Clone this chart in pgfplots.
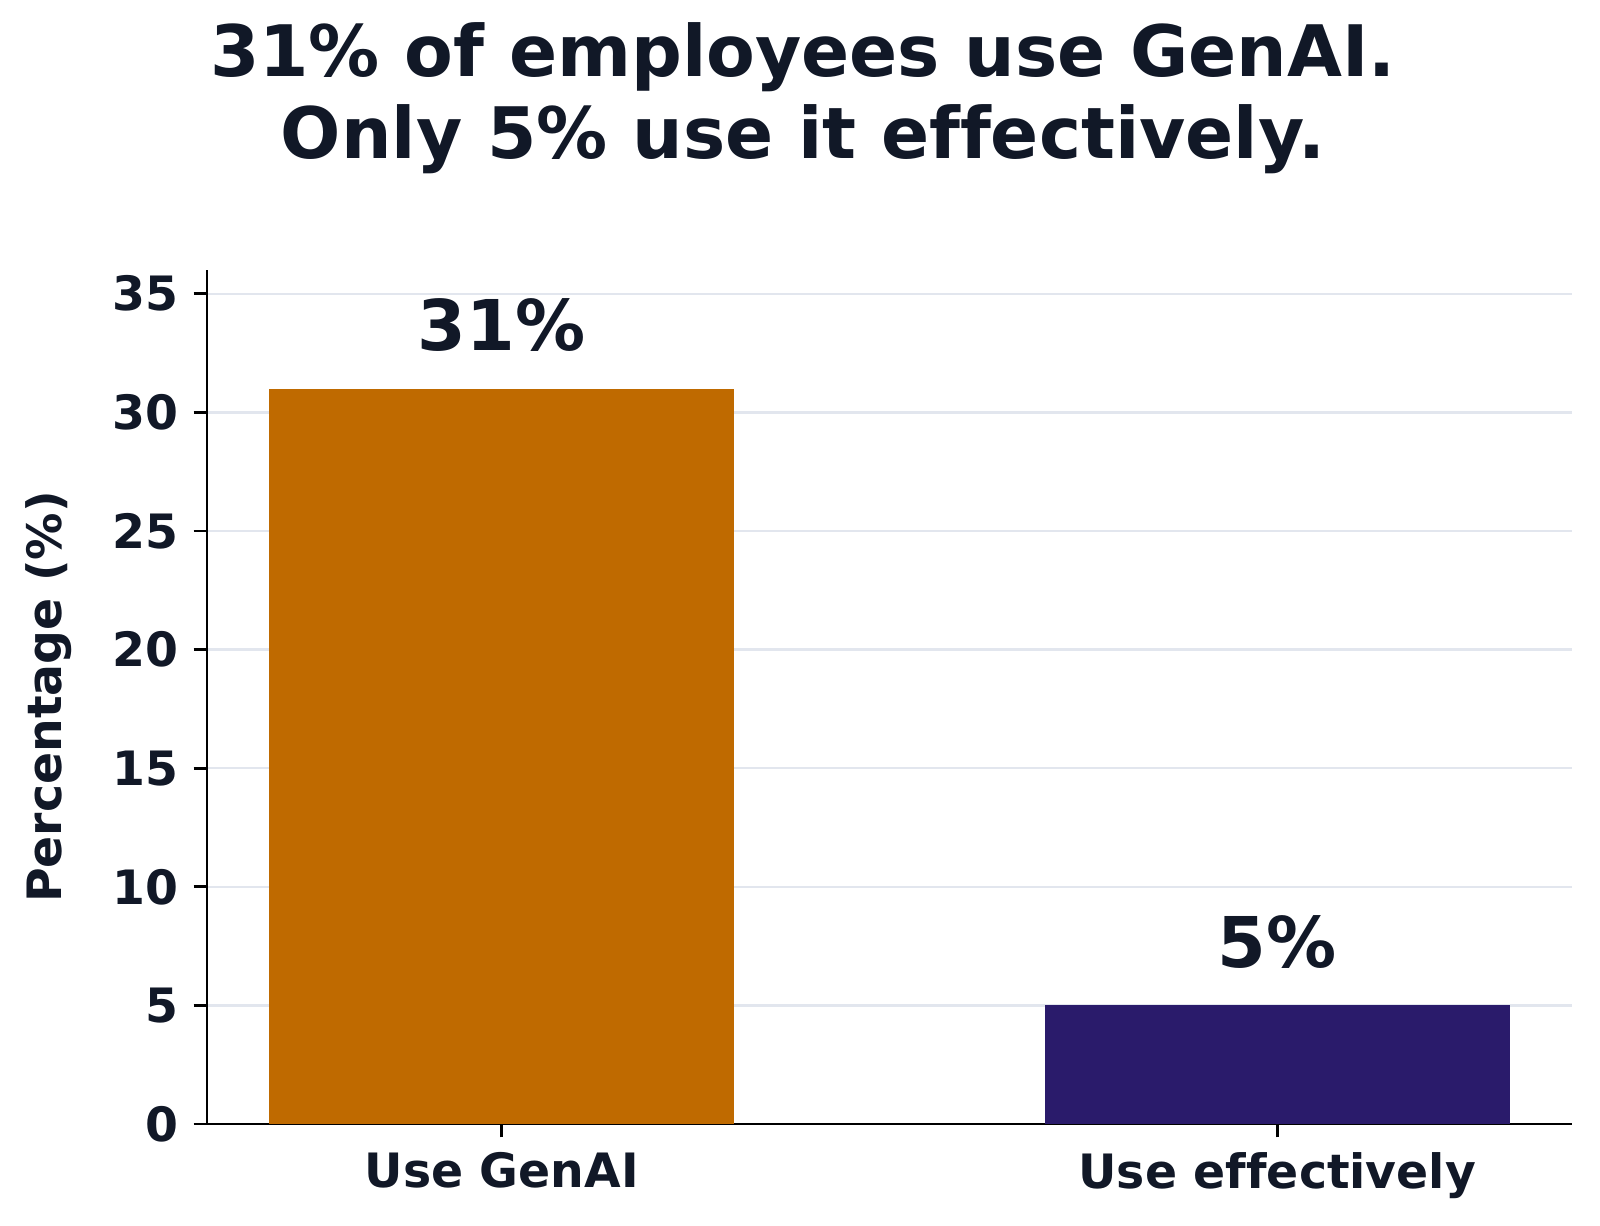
\documentclass[border=0pt]{standalone}
\usepackage{pgfplots}
\pgfplotsset{compat=1.18}
\usepackage{fontspec}
\setmainfont{DejaVu Sans}[Ligatures=NoCommon]
\definecolor{txt}{RGB}{17,24,39}
\definecolor{barorange}{RGB}{191,106,0}
\definecolor{barnavy}{RGB}{42,27,107}
\definecolor{gridc}{RGB}{226,230,238}
\begin{document}
\begin{tikzpicture}
\begin{axis}[
  at={(0,0)}, anchor=south west,
  scale only axis,
  width=409.5pt, height=256.2pt,
  xmin=-0.38, xmax=1.38,
  ymin=0, ymax=36,
  ytick={0,5,...,35},
  xtick={0,1},
  xticklabels={Use GenAI, Use effectively},
  axis x line*=bottom, axis y line*=left,
  axis line style={line width=0.8pt, color=black},
  tick align=outside,
  major tick length=4pt,
  tick style={line width=0.8pt, color=black},
  ymajorgrids,
  grid style={color=gridc, line width=0.7pt},
  /pgf/number format/assume math mode=true,
  yticklabel style={font=\fontsize{14.2pt}{16pt}\selectfont\bfseries, text=txt, xshift=-1pt},
  xticklabel style={font=\fontsize{14.2pt}{16pt}\selectfont\bfseries, text=txt, yshift=-1pt},
  ylabel={Percentage (\%)},
  every axis y label/.style={at={(axis description cs:0,0.5)}, xshift=-47.4pt, rotate=90, anchor=center, font=\fontsize{14.2pt}{16pt}\selectfont\bfseries, text=txt},
  ybar, bar width=139.6pt, bar shift=0pt,
  nodes near coords={\pgfmathprintnumber{\pgfplotspointmeta}\%},
  nodes near coords style={font=\fontsize{21pt}{24pt}\selectfont\bfseries, text=txt, anchor=south, yshift=7.5pt},
  clip=false,
]
\addplot[fill=barorange, draw=none] coordinates {(0,31)};
\addplot[fill=barnavy, draw=none] coordinates {(1,5)};
\end{axis}
\node[font=\fontsize{21.3pt}{24.5pt}\selectfont\bfseries, text=txt, align=center] at (178.8pt,307.8pt) {31\% of employees use GenAI.\\Only 5\% use it effectively.};
\pgfresetboundingbox
\path[use as bounding box] (-62.1pt,-30.3pt) rectangle (417.9pt,337.2pt);
\end{tikzpicture}
\end{document}
